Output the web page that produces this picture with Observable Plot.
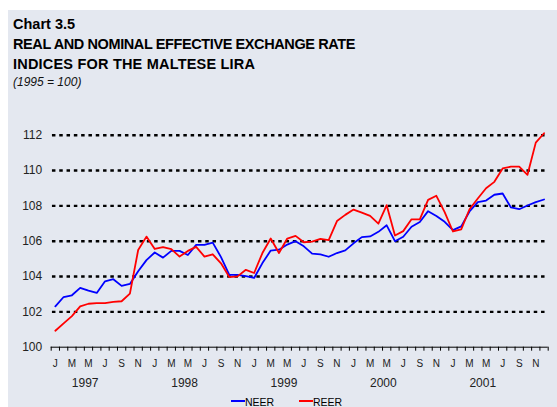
<!DOCTYPE html>
<html><head><meta charset="utf-8">
<script src="https://cdn.jsdelivr.net/npm/d3@7"></script>
<script src="https://cdn.jsdelivr.net/npm/@observablehq/plot@0.6"></script>
<style>
body{margin:0;background:#fff;}
#wrap{position:relative;width:557px;height:407px;overflow:hidden;font-family:Arial,"Liberation Sans",sans-serif;}
#panel{position:absolute;left:8px;top:10px;right:0;bottom:0;background:#e4e8f0;}
.t{position:absolute;left:13px;white-space:nowrap;color:#000;}
.h{font-weight:bold;font-size:14.5px;line-height:14.5px;}
.s{font-style:italic;font-size:12px;line-height:12px;top:75.8px;color:#111;}
#chart{position:absolute;left:0;top:100px;}
.lg{position:absolute;top:397px;font-size:10.5px;line-height:10.5px;color:#000;}
.sw{position:absolute;height:2px;top:400px;}
</style></head>
<body>
<div id="wrap">
  <div id="panel"></div>
  <div class="t h" style="top:16.7px">Chart 3.5</div>
  <div class="t h" style="top:36.5px;letter-spacing:-0.4px">REAL AND NOMINAL EFFECTIVE EXCHANGE RATE</div>
  <div class="t h" style="top:57.2px;letter-spacing:0.2px">INDICES FOR THE MALTESE LIRA</div>
  <div class="t s">(1995 = 100)</div>
  <div id="chart"></div>
  <div class="sw" style="left:231px;width:14px;background:#0000ff"></div>
  <div class="lg" style="left:245px">NEER</div>
  <div class="sw" style="left:299px;width:14px;background:#ff0000"></div>
  <div class="lg" style="left:313px">REER</div>
</div>
<script>
const years = [1997, 1998, 1999, 2000, 2001];
const monthInitials = ["J","F","M","A","M","J","J","A","S","O","N","D"];
const yTicks = [100, 102, 104, 106, 108, 110, 112];
const neer = [
  102.31,102.84,102.94,103.36,103.20,103.07,103.73,103.85,103.47,103.58,104.30,104.93,
  105.36,105.07,105.45,105.45,105.22,105.79,105.79,105.92,105.10,104.09,104.09,104.02,
  103.92,104.76,105.47,105.52,105.81,106.00,105.71,105.30,105.26,105.12,105.33,105.48,
  105.88,106.23,106.27,106.53,106.90,106.00,106.25,106.82,107.09,107.70,107.43,107.10,
  106.63,106.84,107.68,108.21,108.30,108.63,108.70,107.91,107.81,108.02,108.21,108.36
];
const reer = [
  100.93,101.35,101.76,102.31,102.46,102.50,102.50,102.56,102.60,103.03,105.50,106.26,
  105.56,105.66,105.55,105.13,105.45,105.68,105.13,105.26,104.75,103.97,104.01,104.38,
  104.20,105.33,106.15,105.33,106.15,106.30,105.94,105.98,106.13,106.06,107.14,107.49,
  107.79,107.62,107.43,106.99,108.04,106.32,106.57,107.24,107.24,108.34,108.57,107.65,
  106.55,106.67,107.81,108.42,109.00,109.36,110.12,110.22,110.22,109.76,111.58,112.11
];

const nMonths = years.length * 12;
const months = d3.range(nMonths).map(i => ({i, label: monthInitials[i % 12], year: years[Math.floor(i / 12)]}));
const monthLabels = months.filter(d => d.i % 2 === 0);
const boundaries = d3.range(nMonths + 1).map(i => i - 0.5);
const gridVals = yTicks.filter(v => v > 100);

const chart = Plot.plot({
  width: 557, height: 307,
  marginLeft: 50.7, marginRight: 9.3, marginTop: 34.7, marginBottom: 60.3,
  style: {background: "transparent", fontFamily: "Arial, 'Liberation Sans', sans-serif", color: "#000", overflow: "visible"},
  x: {type: "linear", domain: [-0.5, nMonths - 0.5], axis: null},
  y: {domain: [100, 112], axis: null},
  marks: [
    Plot.ruleY(gridVals, {x1: -0.35, x2: nMonths - 0.8, stroke: "#000", strokeWidth: 2.4, strokeDasharray: "3.5,3.8"}),
    Plot.axisX({ticks: boundaries, tickSize: 4, tickFormat: () => "", stroke: "#000", label: null}),
    Plot.ruleY([100], {stroke: "#000", strokeWidth: 1}),
    Plot.text(yTicks, {x: -0.5, y: d => d, dx: -9, textAnchor: "end", fontSize: 12, fill: "#222", text: d => String(d)}),
    Plot.text(monthLabels, {x: "i", y: 100, dy: 17, text: "label", fontSize: 10, fill: "#222", lineAnchor: "middle"}),
    Plot.text(years, {x: (d, k) => 12 * k + 3.6, y: 100, dy: 36, text: d => String(d), fontSize: 12, fill: "#222", lineAnchor: "middle"}),
    Plot.line(neer, {x: (d, i) => i, y: d => d, stroke: "#0000ff", strokeWidth: 1.8}),
    Plot.line(reer, {x: (d, i) => i, y: d => d, stroke: "#ff0000", strokeWidth: 1.8})
  ]
});
document.getElementById("chart").appendChild(chart);
</script>
</body></html>
